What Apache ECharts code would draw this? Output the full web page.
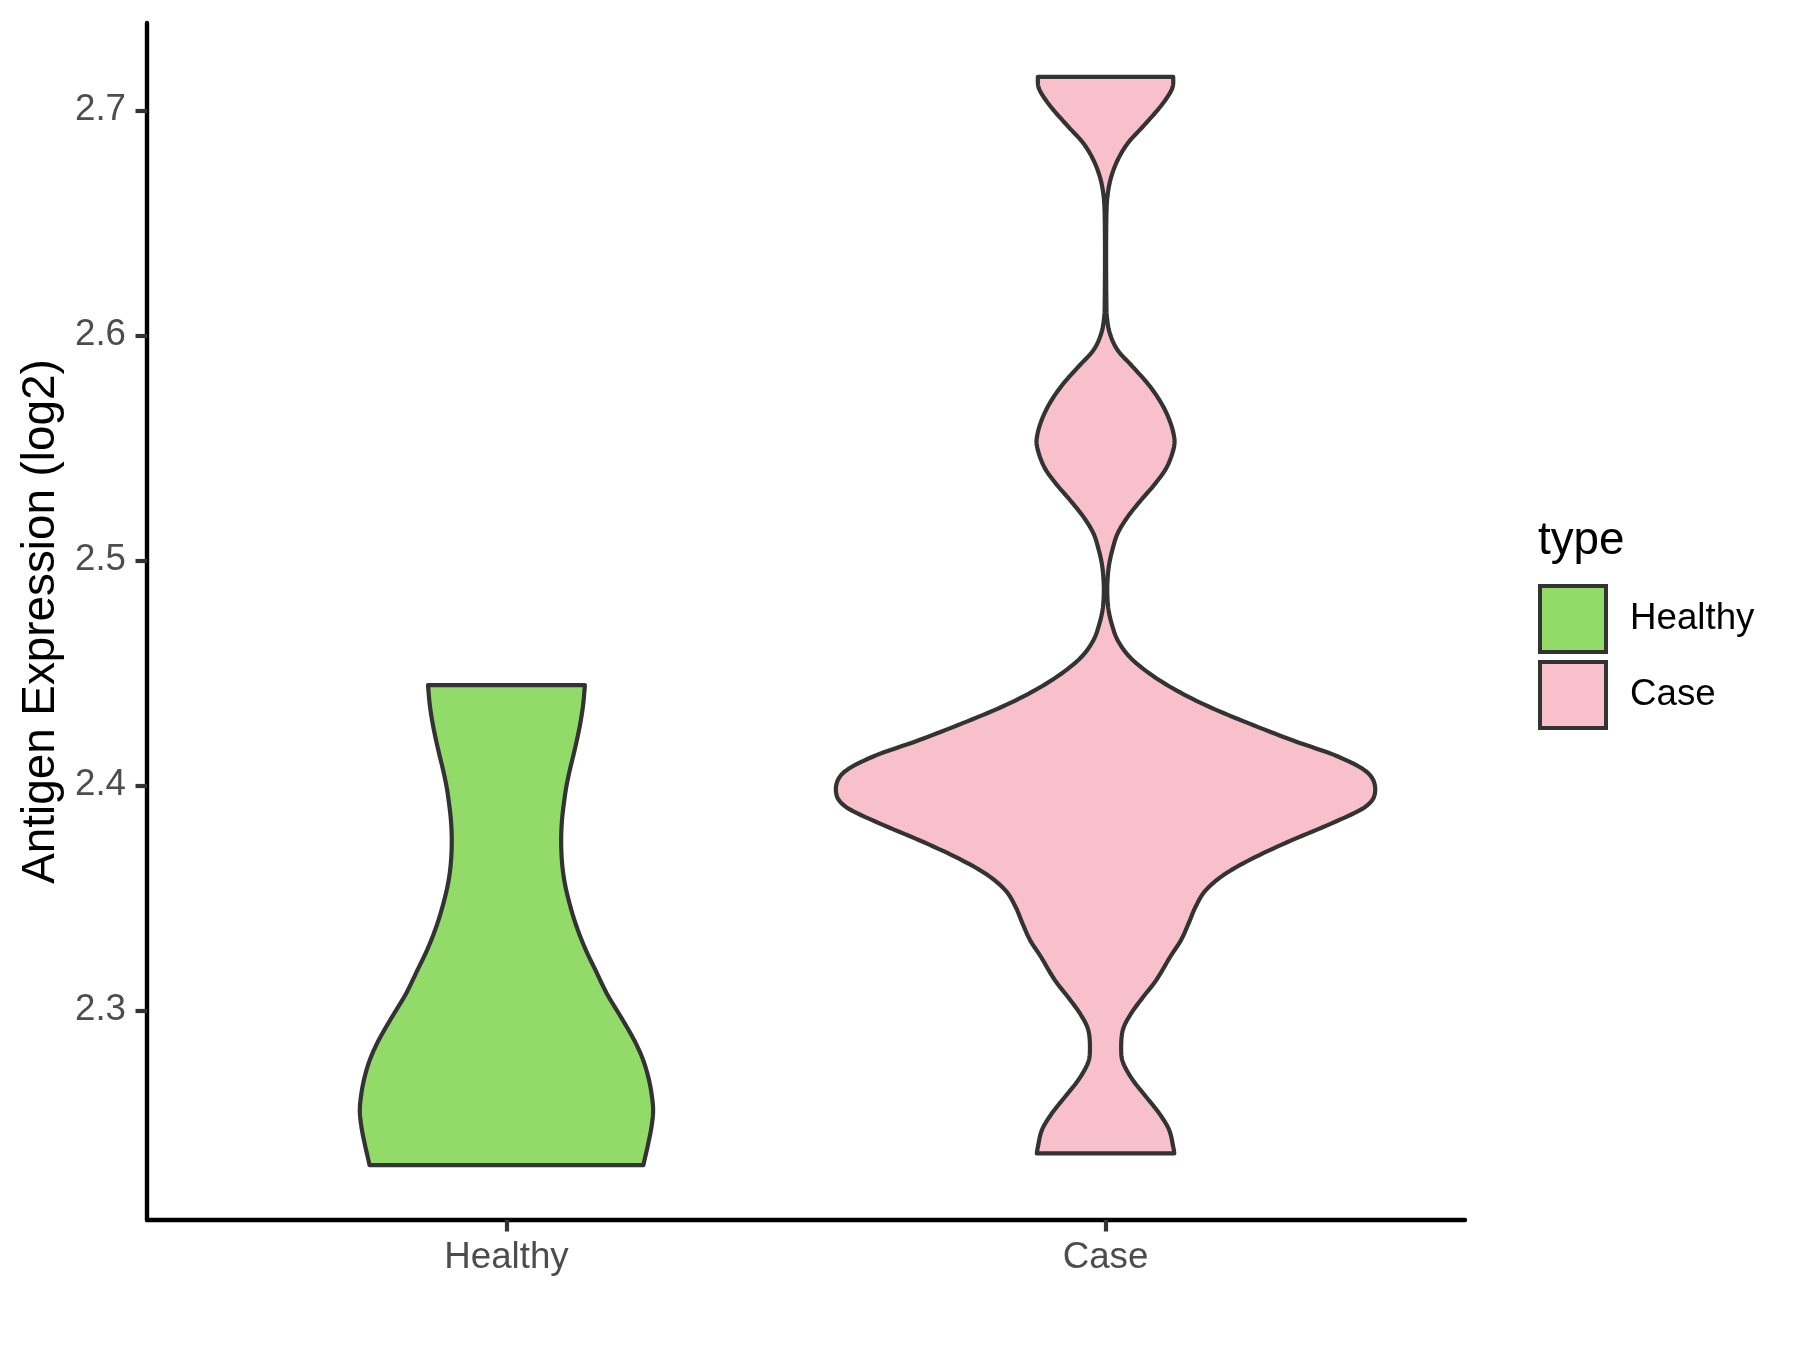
<!DOCTYPE html>
<html>
<head>
<meta charset="utf-8">
<script src="https://cdn.jsdelivr.net/npm/echarts@6/dist/echarts.min.js"></script>
<style>
  html, body { margin: 0; padding: 0; background: #ffffff; }
  #chart { width: 1800px; height: 1350px; }
</style>
</head>
<body>
<div id="chart"></div>
<script>
// ---- data ----
const categories = ['Healthy', 'Case'];
const yTicks = [2.3, 2.4, 2.5, 2.6, 2.7];
const legendTitle = 'type';
const yAxisTitle = 'Antigen Expression (log2)';

// violin outlines: expression values (bottom -> top) and density (relative to widest violin)
const healthyY = [2.2312, 2.2334, 2.2408, 2.2482, 2.2556, 2.2631, 2.2704, 2.2779, 2.2853, 2.2927,
  2.3001, 2.3075, 2.3179, 2.3253, 2.3327, 2.3401, 2.3475, 2.3549, 2.3623, 2.3697,
  2.3771, 2.3845, 2.3920, 2.3993, 2.4068, 2.4142, 2.4216, 2.4290, 2.4364, 2.4445];
const healthyDensity = [0.508, 0.512, 0.526, 0.538, 0.544, 0.538, 0.526, 0.507, 0.480, 0.446,
  0.409, 0.372, 0.330, 0.300, 0.274, 0.252, 0.234, 0.219, 0.209, 0.204,
  0.203, 0.206, 0.213, 0.222, 0.235, 0.250, 0.264, 0.276, 0.285, 0.291];

const caseY = [2.2364, 2.2393, 2.2468, 2.2542, 2.2616, 2.2690, 2.2764, 2.2823, 2.2912, 2.2986,
  2.3060, 2.3134, 2.3238, 2.3312, 2.3386, 2.3460, 2.3534, 2.3608, 2.3682, 2.3756,
  2.3831, 2.3904, 2.3971, 2.4053, 2.4127, 2.4201, 2.4275, 2.4349, 2.4423, 2.4497,
  2.4571, 2.4645, 2.4713, 2.4780, 2.4846, 2.4912, 2.4979, 2.5045, 2.5120, 2.5193,
  2.5268, 2.5342, 2.5416, 2.5504, 2.5564, 2.5638, 2.5712, 2.5786, 2.5860, 2.5934,
  2.6008, 2.6082, 2.6157, 2.6290, 2.6423, 2.6556, 2.6631, 2.6704, 2.6779, 2.6853,
  2.6927, 2.7001, 2.7060, 2.7104, 2.7149];
const caseDensity = [0.255, 0.251, 0.236, 0.199, 0.150, 0.101, 0.066, 0.058, 0.064, 0.095,
  0.140, 0.188, 0.240, 0.280, 0.308, 0.334, 0.372, 0.446, 0.557, 0.691,
  0.839, 0.963, 1.000, 0.975, 0.864, 0.691, 0.532, 0.384, 0.261, 0.163,
  0.089, 0.045, 0.024, 0.011, 0.0066, 0.0074, 0.013, 0.025, 0.045, 0.082,
  0.132, 0.185, 0.228, 0.254, 0.252, 0.232, 0.200, 0.156, 0.101, 0.045,
  0.016, 0.005, 0.003, 0.0022, 0.0022, 0.0037, 0.0085, 0.021, 0.045, 0.082,
  0.138, 0.193, 0.230, 0.249, 0.251];

// ---- styling ----
const FONT = '"Liberation Sans", Arial, Helvetica, sans-serif';
const fills = { Healthy: '#93DB69', Case: '#F8C0CB' };
const OUTLINE = '#333333';
const HALF_MAX = 0.45; // widest violin half-width in category units

const violins = [
  { name: 'Healthy', pos: 1, ys: healthyY, ds: healthyDensity },
  { name: 'Case', pos: 2, ys: caseY, ds: caseDensity }
];

function catmull(pts, steps) {
  const out = [];
  const n = pts.length;
  for (let i = 0; i < n - 1; i++) {
    const p0 = pts[Math.max(i - 1, 0)], p1 = pts[i], p2 = pts[i + 1], p3 = pts[Math.min(i + 2, n - 1)];
    for (let s = 0; s < steps; s++) {
      const t = s / steps, t2 = t * t, t3 = t2 * t;
      const f = (a, b, c, d) => 0.5 * ((2 * b) + (-a + c) * t + (2 * a - 5 * b + 4 * c - d) * t2 + (-a + 3 * b - 3 * c + d) * t3);
      out.push([f(p0[0], p1[0], p2[0], p3[0]), f(p0[1], p1[1], p2[1], p3[1])]);
    }
  }
  out.push(pts[n - 1]);
  return out;
}

function makeRender(v) {
  return function (params, api) {
    const right = v.ys.map((y, i) => api.coord([v.pos + v.ds[i] * HALF_MAX, y]));
    const left = v.ys.map((y, i) => api.coord([v.pos - v.ds[i] * HALF_MAX, y]));
    const r = catmull(right, 8);
    const l = catmull(left, 8).reverse();
    return {
      type: 'polygon',
      shape: { points: r.concat(l) },
      style: { fill: fills[v.name], stroke: OUTLINE, lineWidth: 4.2, lineJoin: 'round' }
    };
  };
}

const chart = echarts.init(document.getElementById('chart'), null, { renderer: 'canvas' });
const option = {
  backgroundColor: '#ffffff',
  animation: false,
  title: {
    text: legendTitle,
    left: 1538, top: 518, padding: 0,
    textStyle: { fontSize: 45.8, fontWeight: 'normal', color: '#000000', fontFamily: FONT }
  },
  legend: {
    orient: 'vertical',
    left: 1538, top: 584, padding: 0,
    itemWidth: 66, itemHeight: 66, itemGap: 6,
    selectedMode: false,
    data: categories.map(c => ({ name: c, icon: 'rect' })),
    itemStyle: { borderColor: OUTLINE, borderWidth: 4 },
    textStyle: { fontSize: 36.7, color: '#000000', fontFamily: FONT, padding: [0, 0, 0, 19] }
  },
  grid: { left: 147, right: 335, top: 23, bottom: 130, containLabel: false },
  xAxis: {
    type: 'value', min: 0.4, max: 2.6,
    axisLine: { show: true, onZero: false, lineStyle: { color: '#000000', width: 4.4 } },
    axisTick: { show: true, customValues: [1, 2], length: 11.5, lineStyle: { color: '#333333', width: 4.2 } },
    axisLabel: {
      customValues: [1, 2],
      formatter: v => categories[Math.round(v) - 1] || '',
      fontSize: 36.7, color: '#4d4d4d', fontFamily: FONT, margin: 19
    },
    splitLine: { show: false }
  },
  yAxis: {
    type: 'value', min: 2.2068, max: 2.7388,
    name: yAxisTitle, nameLocation: 'middle', nameRotate: 90, nameGap: 82,
    nameTextStyle: { fontSize: 45.8, color: '#000000', fontFamily: FONT },
    axisLine: { show: true, onZero: false, lineStyle: { color: '#000000', width: 4.4 } },
    axisTick: { show: true, customValues: yTicks, length: 11.5, lineStyle: { color: '#333333', width: 4.2 } },
    axisLabel: {
      customValues: yTicks,
      formatter: v => v.toFixed(1),
      fontSize: 36.7, color: '#4d4d4d', fontFamily: FONT, margin: 21
    },
    splitLine: { show: false }
  },
  series: violins.map(v => ({
    type: 'custom',
    name: v.name,
    renderItem: makeRender(v),
    itemStyle: { color: fills[v.name], borderColor: OUTLINE, borderWidth: 4 },
    encode: { x: 0, y: 1 },
    data: [[v.pos, v.ys[0]]],
    z: 2
  }))
};
chart.setOption(option);
</script>
</body>
</html>
